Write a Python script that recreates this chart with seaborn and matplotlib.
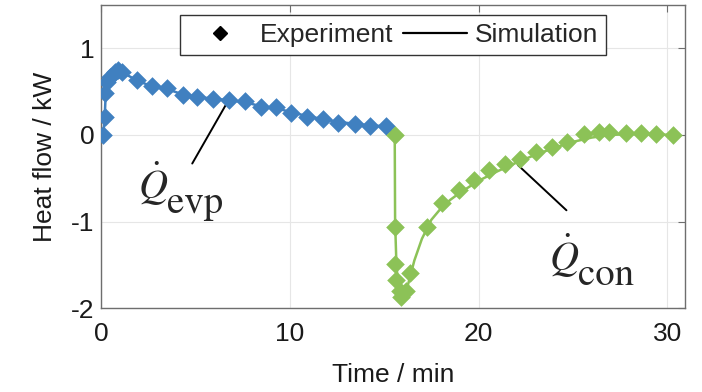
import matplotlib
matplotlib.use("Agg")
import matplotlib.pyplot as plt
import seaborn as sns
from matplotlib.lines import Line2D

# experiment, evaporation phase (blue)
evp_exp_t = [0.12, 0.21, 0.21, 0.30, 0.48, 0.74, 0.92, 1.09, 1.89, 2.68, 3.48, 4.32,
             5.10, 5.94, 6.79, 7.62, 8.45, 9.26, 10.09, 10.90, 11.76, 12.56, 13.44,
             14.27, 15.08]
evp_exp_q = [0.00, 0.21, 0.49, 0.61, 0.67, 0.73, 0.75, 0.73, 0.63, 0.56, 0.54, 0.46,
             0.44, 0.42, 0.40, 0.39, 0.32, 0.32, 0.25, 0.21, 0.18, 0.14, 0.13,
             0.10, 0.10]

# experiment, condensation phase (green)
con_exp_t = [15.56, 15.56, 15.56, 15.65, 15.83, 15.91, 16.18, 16.36, 17.25, 18.05,
             18.94, 19.74, 20.53, 21.42, 22.22, 23.02, 23.90, 24.70, 25.59, 26.39,
             26.93, 27.81, 28.61, 29.41, 30.30]
con_exp_q = [0.00, -1.06, -1.49, -1.68, -1.80, -1.87, -1.80, -1.60, -1.06, -0.79,
             -0.63, -0.52, -0.41, -0.34, -0.28, -0.20, -0.14, -0.08, 0.01, 0.03,
             0.03, 0.02, 0.02, 0.01, 0.00]

# simulation
evp_sim_t = [0.12, 0.20, 0.25, 0.35, 0.50, 0.75, 0.95, 1.15, 1.90, 2.70, 3.50, 4.30,
             5.10, 5.90, 6.80, 7.60, 8.50, 9.30, 10.10, 10.90, 11.80, 12.60, 13.40,
             14.30, 15.10, 15.50]
evp_sim_q = [0.00, 0.25, 0.50, 0.60, 0.67, 0.73, 0.75, 0.72, 0.63, 0.56, 0.53, 0.47,
             0.44, 0.42, 0.40, 0.38, 0.33, 0.31, 0.26, 0.22, 0.18, 0.15, 0.13,
             0.11, 0.10, 0.02]
con_sim_t = [15.56, 15.58, 15.65, 15.75, 15.85, 15.95, 16.10, 16.30, 16.60, 17.00,
             17.50, 18.00, 18.50, 19.00, 20.00, 21.00, 22.00, 23.00, 24.00, 25.00,
             26.00, 27.00, 28.00, 29.00, 30.30]
con_sim_q = [0.00, -1.00, -1.50, -1.75, -1.85, -1.90, -1.85, -1.70, -1.45, -1.20,
             -0.98, -0.85, -0.75, -0.67, -0.53, -0.42, -0.32, -0.23, -0.15, -0.08,
             -0.03, 0.00, 0.01, 0.01, 0.00]

blue = "#4080C0"
green = "#8CC257"

sns.set_theme(style="whitegrid")
plt.rcParams['font.family'] = ['Liberation Sans', 'DejaVu Sans']
plt.rcParams['mathtext.fontset'] = 'stix'
plt.rcParams['axes.unicode_minus'] = False

fig = plt.figure(figsize=(7.02, 3.92), dpi=100)
ax = fig.add_axes([0.144, 0.214, 0.832, 0.773])

sns.lineplot(x=evp_sim_t, y=evp_sim_q, ax=ax, color=blue, linewidth=1.8,
             sort=False, estimator=None)
sns.lineplot(x=con_sim_t, y=con_sim_q, ax=ax, color=green, linewidth=1.8,
             sort=False, estimator=None)
sns.scatterplot(x=evp_exp_t, y=evp_exp_q, ax=ax, color=blue, marker='D', s=90,
                linewidth=0, zorder=3)
sns.scatterplot(x=con_exp_t, y=con_exp_q, ax=ax, color=green, marker='D', s=90,
                linewidth=0, zorder=3)

ax.set_xlim(0, 30.95)
ax.set_ylim(-2, 1.5)
ax.set_xticks([0, 10, 20, 30])
ax.set_yticks([-2, -1, 0, 1])
ax.grid(True, color='#E6E6E6', linewidth=0.8)
for s in ax.spines.values():
    s.set_color('#6E6E6E')
    s.set_linewidth(1.0)
ax.tick_params(axis='both', direction='in', length=5, width=0.8, colors='#6E6E6E',
               labelcolor='#1A1A1A', labelsize=19, top=True, right=True)
ax.tick_params(axis='x', pad=10)
ax.tick_params(axis='y', pad=5)
ax.set_xlabel('Time / min', fontsize=19, color='#1A1A1A', labelpad=12)
ax.set_ylabel('Heat flow / kW', fontsize=19, color='#1A1A1A', labelpad=10)

# annotations
ax.plot([6.59, 4.83], [0.34, -0.33], color='black', linewidth=1.4)
ax.plot([22.1, 24.66], [-0.35, -0.87], color='black', linewidth=1.4)
for x0, y0, sub in [(1.96, -0.736, 'evp'), (23.75, -1.575, 'con')]:
    ax.text(x0, y0, r'$\dot{Q}$', fontsize=29, ha='left', va='baseline')
    ax.annotate(sub, xy=(x0, y0), xytext=(21, -10), textcoords='offset points',
                fontsize=28, family='STIXGeneral', ha='left', va='baseline')

handles = [Line2D([], [], color='black', marker='D', markersize=7, linestyle='none'),
           Line2D([], [], color='black', linewidth=1.6)]
leg = ax.legend(handles, ['Experiment', 'Simulation'], ncol=2, loc='upper center',
                bbox_to_anchor=(0.5, 0.967), fontsize=19, frameon=True, fancybox=False,
                framealpha=1, edgecolor='#333333', handlelength=2.4, handletextpad=0.3,
                columnspacing=0.4, borderpad=0.3, borderaxespad=0)
leg.get_frame().set_linewidth(1.0)

fig.savefig('out.png', dpi=100)
